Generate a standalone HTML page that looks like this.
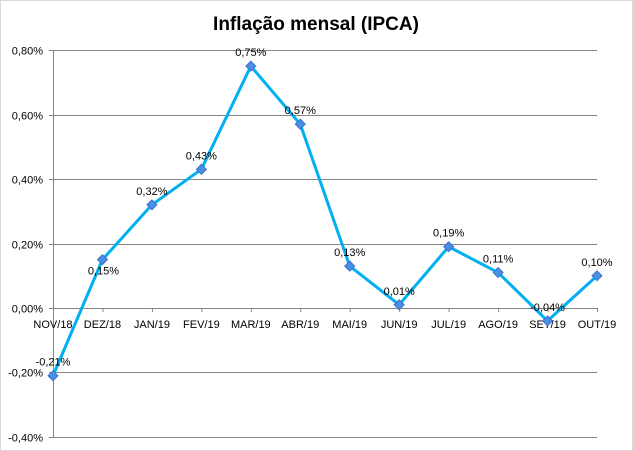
<!DOCTYPE html>
<html><head><meta charset="utf-8"><style>
body{margin:0;background:#fff;}
svg{display:block;font-family:"Liberation Sans",sans-serif;}
</style></head><body>
<svg id="chart" width="633" height="451" xmlns="http://www.w3.org/2000/svg">
<rect x="0.5" y="0.5" width="632" height="450" fill="#fff" stroke="#d9d9d9"/>
<text x="316" y="30" text-anchor="middle" font-size="19" font-weight="bold" fill="#000">Inflação mensal (IPCA)</text>
<g id="grid"></g><g id="series"></g><g id="labels"></g>
</svg>
<script>
const categories=["NOV/18","DEZ/18","JAN/19","FEV/19","MAR/19","ABR/19","MAI/19","JUN/19","JUL/19","AGO/19","SET/19","OUT/19"];
const values=[-0.21,0.15,0.32,0.43,0.75,0.57,0.13,0.01,0.19,0.11,-0.04,0.10];
const yTicks=[0.8,0.6,0.4,0.2,0,-0.2,-0.4];
const ns="http://www.w3.org/2000/svg";
const x0=53,x1=597,yTop=50,yBot=437,vMax=0.8,vMin=-0.4;
const xs=i=>x0+(x1-x0)*i/(categories.length-1);
const ys=v=>yTop+(vMax-v)/(vMax-vMin)*(yBot-yTop);
const fmt=v=>v.toFixed(2).replace('.',',')+'%';
function mk(tag,attrs,parent){const e=document.createElementNS(ns,tag);for(const k in attrs)e.setAttribute(k,attrs[k]);parent.appendChild(e);return e;}
const grid=document.getElementById('grid');
yTicks.forEach(t=>{
  const y=Math.round(ys(t))+0.5;
  const l=mk('line',{x1:x0-4,x2:x1,y1:y,y2:y,stroke:'#868686','stroke-width':1},grid);
  
  
  const tx=mk('text',{x:x0-10,y:y+4,'text-anchor':'end','font-size':11,fill:'#000'},grid);
  tx.textContent=fmt(t);
  
  
});
const ax=mk('line',{x1:x0+0.5,x2:x0+0.5,y1:yTop,y2:yBot,stroke:'#868686'},grid);


categories.forEach((c,i)=>{
  const x=xs(i);
  const tk=mk('line',{x1:x+0.5,x2:x+0.5,y1:ys(0),y2:ys(0)+4,stroke:'#868686'},grid);
  
  
  const t=mk('text',{x:x,y:ys(0)+20,'text-anchor':'middle','font-size':11,fill:'#000'},grid);
  t.textContent=c;
  
  
});
const s=document.getElementById('series');
const pl=mk('polyline',{points:values.map((v,i)=>xs(i)+','+ys(v)).join(' '),fill:'none',stroke:'#00b0f0','stroke-width':3,'stroke-linejoin':'round'},s);


const lb=document.getElementById('labels');
values.forEach((v,i)=>{
  const x=xs(i),y=ys(v);
  const m=mk('rect',{x:x-3.5,y:y-3.5,width:7,height:7,fill:'#4a90e2',stroke:'#3d6fd0',transform:`rotate(45 ${x} ${y})`},s);
  
  
  const below=(i===1);
  const t=mk('text',{x:below?x+1:x,y:below?y+15:y-10,'text-anchor':'middle','font-size':11,fill:'#000'},lb);
  t.textContent=fmt(v);
  
  
});
</script>
</body></html>
